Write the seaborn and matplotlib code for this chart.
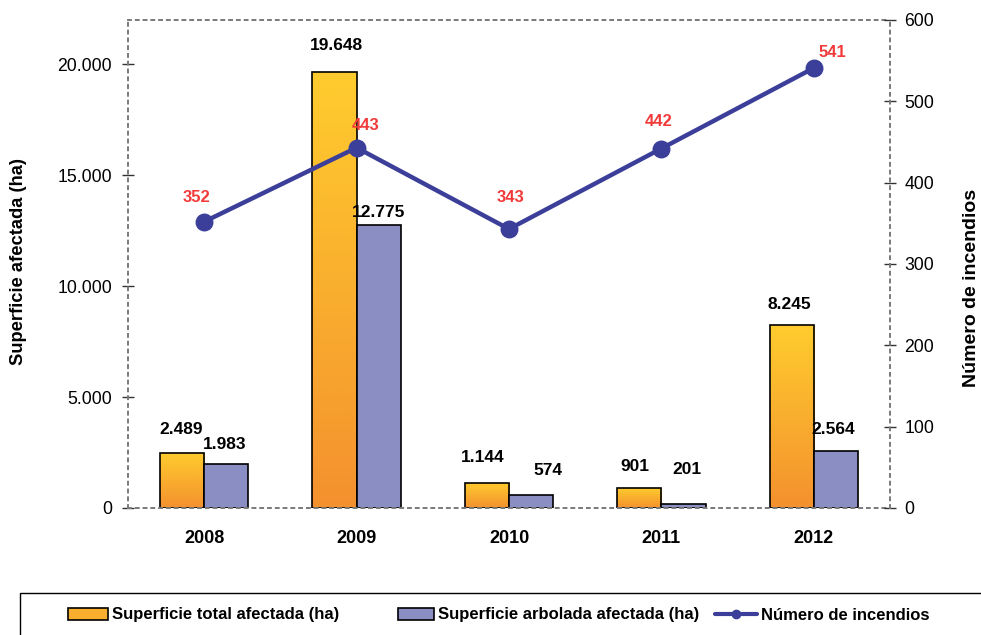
import numpy as np
import pandas as pd
import matplotlib
matplotlib.use("Agg")
import matplotlib.pyplot as plt
import seaborn as sns
from matplotlib.colors import LinearSegmentedColormap
from matplotlib.patches import Patch, Rectangle
from matplotlib.lines import Line2D
from matplotlib.ticker import FuncFormatter, FixedLocator

# ---------------- data ----------------
years = ["2008", "2009", "2010", "2011", "2012"]
sup_total = [2489, 19648, 1144, 901, 8245]
sup_arbolada = [1983, 12775, 574, 201, 2564]
incendios = [352, 443, 343, 442, 541]
serie_total = "Superficie total afectada (ha)"
serie_arbolada = "Superficie arbolada afectada (ha)"
serie_incendios = "Número de incendios"
ylabel_left = "Superficie afectada (ha)"
ylabel_right = "Número de incendios"
left_ticks = [0, 5000, 10000, 15000, 20000]
right_ticks = [0, 100, 200, 300, 400, 500, 600]

# ---------------- style ----------------
ORANGE_TOP = "#FFCC2E"
ORANGE_BOT = "#F4912E"
ORANGE = "#F9AE2E"
PURPLE = "#8B8EC3"
LINE = "#3C3F99"
RED = "#F23A3A"
SPINE = "#7A7A7A"

# label offsets in pixels (dx, dy)
off_total = [(-1, 23), (2, 27), (-4, 25), (-4, 22), (-2, 21)]
off_arbolada = [(-2, 20), (0, 12), (17, 25), (3, 34), (-3, 22)]
off_inc = [(-8, 24), (9, 22), (1, 32), (-3, 27), (19, 15)]

sns.set_theme(style="white")
plt.rcParams["font.family"] = ["Liberation Sans", "DejaVu Sans"]
plt.rcParams["text.color"] = "black"
plt.rcParams["axes.labelcolor"] = "black"
plt.rcParams["xtick.color"] = "black"
plt.rcParams["ytick.color"] = "black"
NARROW = ["Liberation Sans Narrow", "Liberation Sans", "DejaVu Sans"]

W, H = 981, 635
fig = plt.figure(figsize=(W / 100, H / 100), dpi=100)
ax = fig.add_axes([128 / W, 127 / H, 762 / W, 488 / H])

def thousands(v, pos=None):
    return f"{int(round(v)):,}".replace(",", ".")

df = pd.DataFrame({
    "Año": years * 2,
    "Serie": [serie_total] * len(years) + [serie_arbolada] * len(years),
    "Valor": sup_total + sup_arbolada,
})
sns.barplot(data=df, x="Año", y="Valor", hue="Serie",
            hue_order=[serie_total, serie_arbolada],
            palette=[ORANGE, PURPLE], width=0.58, gap=0, saturation=1,
            edgecolor="black", linewidth=1.2, legend=False, ax=ax)

ax.set_xlim(-0.5, 4.5)
ax.set_ylim(0, 22000)

# gradient fill for orange bars
cmap = LinearSegmentedColormap.from_list("orng", [ORANGE_BOT, ORANGE_TOP])
grad = np.linspace(0, 1, 256).reshape(-1, 1)
for p in ax.containers[0]:
    x0, w, h = p.get_x(), p.get_width(), p.get_height()
    im = ax.imshow(grad, extent=[x0, x0 + w, 0, h], origin="lower",
                   aspect="auto", cmap=cmap, zorder=p.get_zorder() - 0.01,
                   interpolation="bilinear")
    im.set_clip_path(p)
    p.set_facecolor("none")
ax.set_xlim(-0.5, 4.5)
ax.set_ylim(0, 22000)

# bar labels
for cont, vals, offs in [(ax.containers[0], sup_total, off_total),
                         (ax.containers[1], sup_arbolada, off_arbolada)]:
    for p, v, (dx, dy) in zip(cont, vals, offs):
        xc = p.get_x() + p.get_width() / 2
        ax.annotate(thousands(v), (xc, v), xytext=(dx, dy),
                    textcoords="offset pixels", ha="center", va="center",
                    fontsize=12.5, fontweight="bold", color="black")

# y axis left
ax.yaxis.set_major_locator(FixedLocator(left_ticks))
ax.yaxis.set_major_formatter(FuncFormatter(thousands))
ax.tick_params(axis="y", direction="inout", length=9, width=1,
               color="#333333", labelsize=12.7, pad=7, labelcolor="black")
ax.set_ylabel(ylabel_left, fontsize=13.2, fontweight="bold", color="black")
ax.yaxis.set_label_coords(-0.1325, 0.505)

# x axis: separator ticks at boundaries, labels at centers
ax.xaxis.set_major_locator(FixedLocator([0.5, 1.5, 2.5, 3.5]))
ax.xaxis.set_minor_locator(FixedLocator(list(range(len(years)))))
ax.set_xticklabels([])
ax.set_xticklabels(years, minor=True)
ax.tick_params(axis="x", which="major", direction="inout", length=14,
               width=1, color="#333333")
ax.tick_params(axis="x", which="minor", length=0, pad=16, labelsize=13,
               labelcolor="black")
for t in ax.get_xticklabels(minor=True):
    t.set_fontweight("bold")
ax.set_xlabel("")

for s in ["top", "left", "bottom"]:
    ax.spines[s].set_visible(True)
    ax.spines[s].set_color(SPINE)
    ax.spines[s].set_linestyle((0, (1.5, 2.5)))
    ax.spines[s].set_linewidth(1.4)
ax.spines["right"].set_visible(False)

# line on secondary axis
ax2 = ax.twinx()
sns.pointplot(x=years, y=incendios, ax=ax2, color=LINE, markers="o",
              markersize=10.5, linewidth=3.2, errorbar=None)
ax2.set_ylim(0, 600)
ax.set_xlim(-0.5, 4.5)
ax2.yaxis.set_major_locator(FixedLocator(right_ticks))
ax2.tick_params(axis="y", direction="inout", length=9, width=1,
                color="#333333", labelsize=12.7, pad=6, labelcolor="black")
for s in ["top", "left", "bottom"]:
    ax2.spines[s].set_visible(False)
ax2.spines["right"].set_visible(True)
ax2.spines["right"].set_color(SPINE)
ax2.spines["right"].set_linestyle((0, (1.5, 2.5)))
ax2.spines["right"].set_linewidth(1.4)
ax2.set_ylabel(ylabel_right, fontsize=14, fontweight="bold", color="black")
ax2.yaxis.set_label_coords(1.0958, 0.45)
ax2.set_xlabel("")
ax2.grid(False)
ax.grid(False)

for i, (v, (dx, dy)) in enumerate(zip(incendios, off_inc)):
    ax2.annotate(str(v), (i, v), xytext=(dx, dy), textcoords="offset pixels",
                 ha="center", va="center", fontsize=12, fontweight="bold",
                 color=RED)

# legend frame
fig.add_artist(Rectangle((20 / W, -0.1), 1.2, 0.1 + (H - 593) / H,
                         transform=fig.transFigure, fill=False,
                         edgecolor="black", linewidth=1.0, clip_on=False))

handles = [
    (Patch(facecolor=ORANGE, edgecolor="black", linewidth=1.2), serie_total, 68, 2.4),
    (Patch(facecolor=PURPLE, edgecolor="black", linewidth=1.2), serie_arbolada, 398, 2.15),
    (Line2D([0], [0], color=LINE, lw=3, marker="o", markersize=6), serie_incendios, 715, 2.5),
]
for h, lab, xpx, hl in handles:
    fig.legend([h], [lab], loc="center left",
               bbox_to_anchor=(xpx / W, 1 - 615 / H), frameon=False,
               borderaxespad=0, borderpad=0, handlelength=hl,
               handleheight=0.75, handletextpad=0.25,
               prop={"family": NARROW, "weight": "bold", "size": 12})

fig.savefig("out.png", dpi=100)
